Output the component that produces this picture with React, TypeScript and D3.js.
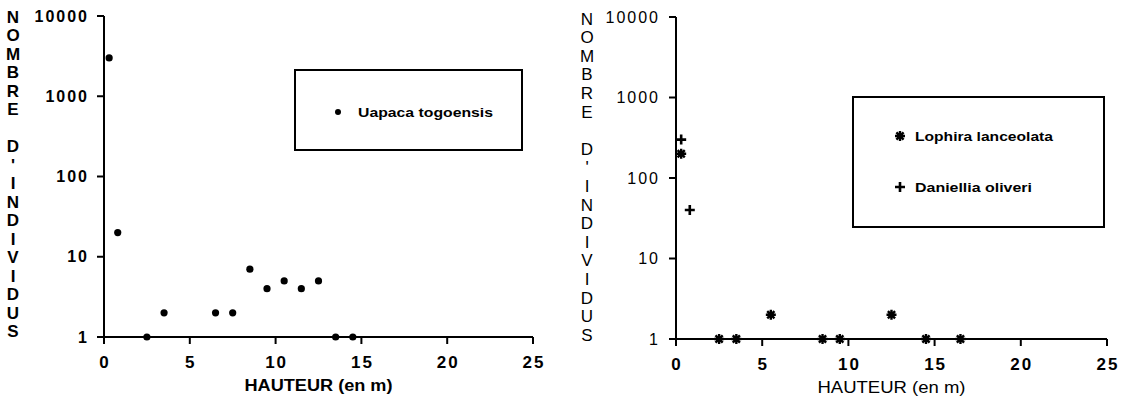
import React from 'react';
import * as d3 from 'd3';

// ---- data ----
const xTicks = [0, 5, 10, 15, 20, 25];
const yTicks = [1, 10, 100, 1000, 10000];
const yTitle = "NOMBRE D'INDIVIDUS";
const xTitle = 'HAUTEUR (en m)';

const uapacaHeight = [0.3, 0.8, 2.5, 3.5, 6.5, 7.5, 8.5, 9.5, 10.5, 11.5, 12.5, 13.5, 14.5];
const uapacaCount = [3000, 20, 1, 2, 2, 2, 7, 4, 5, 4, 5, 1, 1];

const lophiraHeight = [0.3, 2.5, 3.5, 5.5, 8.5, 9.5, 12.5, 14.5, 16.5];
const lophiraCount = [200, 1, 1, 2, 1, 1, 2, 1, 1];

const danielliaHeight = [0.3, 0.8];
const danielliaCount = [300, 40];

const FONT = '"Liberation Sans", Arial, Helvetica, sans-serif';

const asteriskPath = 'M-5,0H5M0,-5V5M-3.6,-3.6L3.6,3.6M-3.6,3.6L3.6,-3.6';
const plusPath = 'M-5,0H5M0,-5V5';

type PanelProps = {
  x: d3.ScaleLinear<number, number>;
  y: d3.ScaleLogarithmic<number, number>;
  titleX: number;
  titleY0: number;
  pitch: number;
  yLabelGap: number;
  yWeight: string | number;
  xTitleY: number;
  xTitleWeight: string | number;
  children?: React.ReactNode;
};

function Panel({ x, y, titleX, titleY0, pitch, yLabelGap, yWeight, xTitleY, xTitleWeight, children }: PanelProps) {
  const [x0, x1] = x.range();
  const [yb, yt] = y.range();
  let slot = 0;
  const letters: { ch: string; yy: number }[] = [];
  for (const ch of yTitle) {
    if (ch !== ' ') letters.push({ ch, yy: titleY0 + slot * pitch });
    slot++;
  }
  return (
    <g>
      {/* y title */}
      {letters.map((l, i) => (
        <text key={i} x={titleX} y={l.yy} textAnchor="middle" dominantBaseline="central"
          fontFamily={FONT} fontWeight={yWeight} fontSize={17}>{l.ch}</text>
      ))}
      {/* axes */}
      <line x1={x0} x2={x0} y1={yt} y2={yb} stroke="#000" strokeWidth={2} />
      <line x1={x0} x2={x1} y1={yb} y2={yb} stroke="#000" strokeWidth={2} />
      {yTicks.map(t => (
        <g key={'y' + t}>
          <line x1={x0 - 7} x2={x0} y1={y(t)} y2={y(t)} stroke="#000" strokeWidth={2} />
          <text x={x0 - yLabelGap} y={y(t)} textAnchor="end" dominantBaseline="central"
            fontFamily={FONT} fontWeight={yWeight} fontSize={16} letterSpacing={2}>{t}</text>
        </g>
      ))}
      {xTicks.map(t => (
        <g key={'x' + t}>
          <line x1={x(t)} x2={x(t)} y1={yb} y2={yb + 7} stroke="#000" strokeWidth={2} />
          <text x={x(t) + 1} y={yb + 31} textAnchor="middle"
            fontFamily={FONT} fontWeight="bold" fontSize={17} letterSpacing={2}>{t}</text>
        </g>
      ))}
      <text x={(x0 + x1) / 2} y={xTitleY} textAnchor="middle" fontFamily={FONT}
        fontWeight={xTitleWeight} fontSize={16} textLength={148} lengthAdjust="spacingAndGlyphs">{xTitle}</text>
      {children}
    </g>
  );
}

export default function App() {
  const xL = d3.scaleLinear().domain([0, 25]).range([104, 533]);
  const yL = d3.scaleLog().domain([1, 10000]).range([337, 16]);
  const xR = d3.scaleLinear().domain([0, 25]).range([676, 1107]);
  const yR = d3.scaleLog().domain([1, 10000]).range([339, 17]);

  return (
    <svg width={1126} height={401} style={{ position: 'absolute', left: 0, top: 0, background: '#fff' }}>
      <rect width={1126} height={401} fill="#fff" />
      <Panel x={xL} y={yL} titleX={13} titleY0={17} pitch={18.5} yLabelGap={15} yWeight="bold"
        xTitleY={391} xTitleWeight="bold">
        {uapacaHeight.map((h, i) => (
          <circle key={i} cx={xL(h)} cy={yL(uapacaCount[i])} r={3.6} fill="#000" />
        ))}
        <rect x={295} y={70} width={227} height={80} fill="none" stroke="#000" strokeWidth={2} />
        <circle cx={338} cy={112} r={3} fill="#000" />
        <text x={358} y={112} dominantBaseline="central" fontFamily={FONT} fontWeight="bold"
          fontSize={13} textLength={135} lengthAdjust="spacingAndGlyphs">Uapaca togoensis</text>
      </Panel>
      <Panel x={xR} y={yR} titleX={587} titleY0={19} pitch={18.6} yLabelGap={16} yWeight="normal"
        xTitleY={393} xTitleWeight="normal">
        {lophiraHeight.map((h, i) => (
          <path key={'l' + i} d={asteriskPath} transform={`translate(${xR(h)},${yR(lophiraCount[i])})`}
            stroke="#000" strokeWidth={2.4} fill="none" />
        ))}
        {danielliaHeight.map((h, i) => (
          <path key={'d' + i} d={plusPath} transform={`translate(${xR(h)},${yR(danielliaCount[i])})`}
            stroke="#000" strokeWidth={2.6} fill="none" />
        ))}
        <rect x={853} y={97} width={251} height={130} fill="none" stroke="#000" strokeWidth={2} />
        <path d={asteriskPath} transform="translate(900,136)" stroke="#000" strokeWidth={2.4} fill="none" />
        <text x={915} y={136} dominantBaseline="central" fontFamily={FONT} fontWeight="bold"
          fontSize={13} textLength={138} lengthAdjust="spacingAndGlyphs">Lophira lanceolata</text>
        <path d={plusPath} transform="translate(900,187)" stroke="#000" strokeWidth={2.6} fill="none" />
        <text x={915} y={187} dominantBaseline="central" fontFamily={FONT} fontWeight="bold"
          fontSize={13} textLength={117} lengthAdjust="spacingAndGlyphs">Daniellia oliveri</text>
      </Panel>
    </svg>
  );
}
